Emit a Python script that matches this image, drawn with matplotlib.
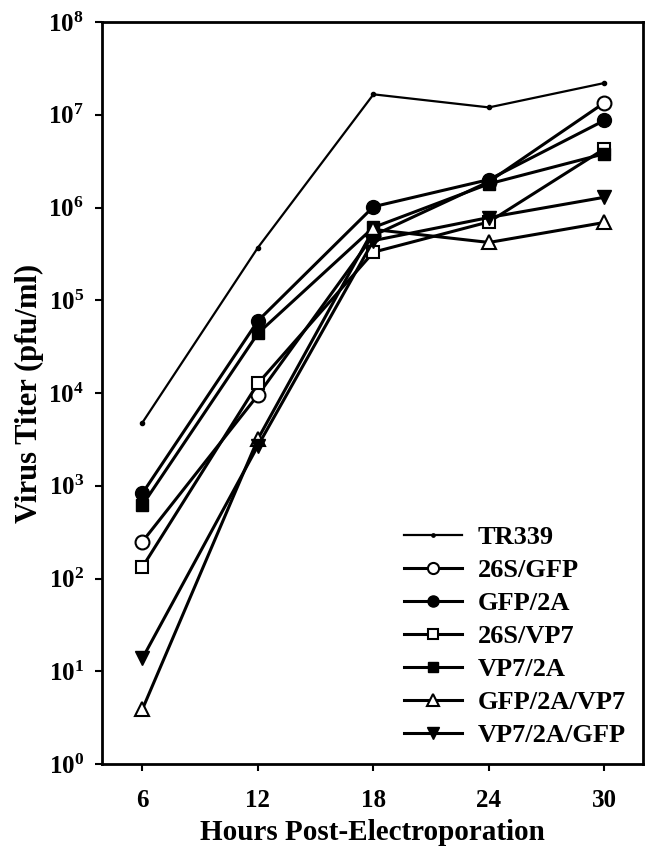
import matplotlib
matplotlib.use("Agg")
import matplotlib.pyplot as plt
from matplotlib.ticker import FixedLocator, FixedFormatter, NullLocator

plt.rcParams['font.family'] = ['Liberation Serif', 'DejaVu Serif']
plt.rcParams['font.weight'] = 'bold'
plt.rcParams['mathtext.fontset'] = 'custom'
plt.rcParams['mathtext.rm'] = 'Liberation Serif:bold'
plt.rcParams['mathtext.it'] = 'Liberation Serif:bold'
plt.rcParams['mathtext.bf'] = 'Liberation Serif:bold'

hours = [6, 12, 18, 24, 30]
series_names = ["TR339", "26S/GFP", "GFP/2A", "26S/VP7", "VP7/2A", "GFP/2A/VP7", "VP7/2A/GFP"]
tr339 = [4.8e3, 3.7e5, 1.66e7, 1.2e7, 2.2e7]
s26_gfp = [250, 9.5e3, 5.0e5, 1.9e6, 1.35e7]
gfp_2a = [830, 6.0e4, 1.02e6, 2.0e6, 8.7e6]
s26_vp7 = [133, 1.27e4, 3.3e5, 7.0e5, 4.3e6]
vp7_2a = [620, 4.4e4, 6.1e5, 1.8e6, 3.8e6]
gfp_2a_vp7 = [3.9, 3.2e3, 5.8e5, 4.2e5, 6.9e5]
vp7_2a_gfp = [13.8, 2.7e3, 4.4e5, 7.8e5, 1.29e6]
y_exponents = [0, 1, 2, 3, 4, 5, 6, 7, 8]

fig = plt.figure(figsize=(6.5, 8.51), dpi=100)
ax = fig.add_axes([102/650, 1-764/851, (643-102)/650, (764-22)/851])

styles = [
    (tr339, dict(marker='o', ms=3, mfc='black', mec='black', lw=1.6)),
    (s26_gfp, dict(marker='o', ms=10, mfc='white', mec='black', mew=1.5, lw=2.2)),
    (gfp_2a, dict(marker='o', ms=10, mfc='black', mec='black', lw=2.2)),
    (s26_vp7, dict(marker='s', ms=9, mfc='white', mec='black', mew=1.5, lw=2.2)),
    (vp7_2a, dict(marker='s', ms=9, mfc='black', mec='black', lw=2.2)),
    (gfp_2a_vp7, dict(marker='^', ms=10, mfc='white', mec='black', mew=1.5, lw=2.2)),
    (vp7_2a_gfp, dict(marker='v', ms=10, mfc='black', mec='black', lw=2.2)),
]
for name, (vals, st) in zip(series_names, styles):
    ax.plot(hours, vals, color='black', label=name, **st)

ax.set_yscale('log')
ax.set_ylim(1, 1e8)
ax.set_xlim(3.9, 32.0)
ax.yaxis.set_major_locator(FixedLocator([10.0**e for e in y_exponents]))
ax.yaxis.set_major_formatter(FixedFormatter([r'$10^{%d}$' % e for e in y_exponents]))
ax.yaxis.set_minor_locator(NullLocator())
ax.set_xticks(hours)
ax.set_xticklabels([str(h) for h in hours])

for sp in ax.spines.values():
    sp.set_linewidth(2.0)
ax.tick_params(axis='y', direction='out', length=5, width=1.5, labelsize=18, pad=8)
ax.tick_params(axis='x', direction='out', length=5, width=1.5, labelsize=18, pad=13)
for lab in ax.get_xticklabels() + ax.get_yticklabels():
    lab.set_fontweight('bold')

ax.set_xlabel("Hours Post-Electroporation", fontsize=21, fontweight='bold', labelpad=5)
ax.set_ylabel("Virus Titer (pfu/ml)", fontsize=22, fontweight='bold', labelpad=3)

leg = ax.legend(loc='lower right', frameon=False, fontsize=19, handlelength=2.2,
                markerscale=0.8, labelspacing=0.36, borderaxespad=0.25, handletextpad=0.6)
for t in leg.get_texts():
    t.set_fontweight('bold')

fig.savefig("out.png", dpi=100)
